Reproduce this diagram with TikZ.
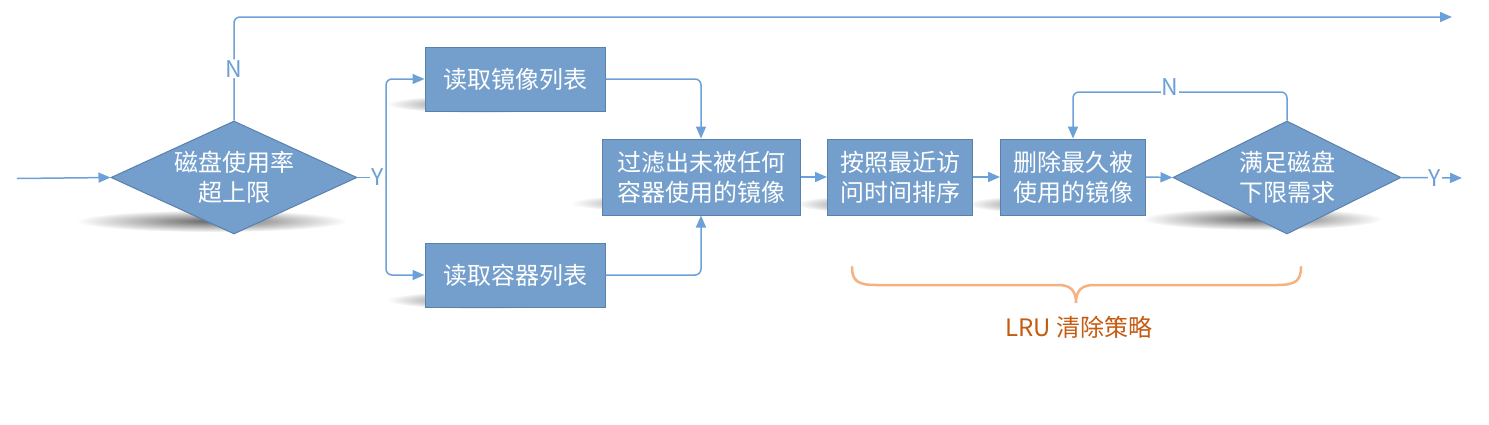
\documentclass[tikz,border=0pt]{standalone}
\usepackage{fontspec}
\setmainfont{Noto Sans CJK SC}
\usetikzlibrary{arrows.meta,shapes.geometric,fadings}
\definecolor{boxfill}{RGB}{116,159,205}
\definecolor{boxedge}{RGB}{90,128,172}
\definecolor{lnc}{RGB}{108,160,216}
\definecolor{bracec}{RGB}{245,178,128}
\definecolor{lrutxt}{RGB}{197,90,17}
\tikzfading[name=fuzzy, inner color=transparent!0, outer color=transparent!100]
\tikzset{
  stepbox/.style={rectangle, fill=boxfill, draw=boxedge, line width=1pt, text=white,
    align=center, inner sep=0pt, font=\fontsize{24}{30}\selectfont},
  decision/.style={diamond, fill=boxfill, draw=boxedge, line width=1pt, text=white,
    align=center, inner sep=0pt, aspect=2.18, font=\fontsize{24}{30}\selectfont},
  conn/.style={draw=lnc, line width=1.5pt, -{Triangle[length=12pt,width=10pt]}},
  plain/.style={draw=lnc, line width=1.5pt},
  lab/.style={text=lnc, fill=white, inner sep=1pt, font=\fontsize{23}{24}\selectfont},
  shad/.style={fill=black!60, path fading=fuzzy},
}
\begin{document}
\begin{tikzpicture}[x=1pt,y=-1pt]
\useasboundingbox (0,0) rectangle (1489,424);
\fill[white] (0,0) rectangle (1489,424);

% shadows
\fill[shad] (212,221) ellipse [x radius=135, y radius=11];
\fill[shad] (1262,219) ellipse [x radius=120, y radius=11];
\fill[shad] (482,104) ellipse [x radius=95, y radius=9];
\fill[shad] (482,300) ellipse [x radius=95, y radius=9];
\fill[shad] (676,203) ellipse [x radius=105, y radius=9];
\fill[shad] (878,204) ellipse [x radius=82, y radius=9];
\fill[shad] (1050,204) ellipse [x radius=82, y radius=9];

% nodes
\node[decision, minimum width=246pt, minimum height=113pt] (d1) at (234,177.5) {磁盘使用率\\超上限};
\node[stepbox, minimum width=180pt, minimum height=64pt] (b1) at (515,79) {读取镜像列表};
\node[stepbox, minimum width=180pt, minimum height=64pt] (b2) at (515,275) {读取容器列表};
\node[stepbox, minimum width=198pt, minimum height=76pt] (b3) at (701,177) {过滤出未被任何\\容器使用的镜像};
\node[stepbox, minimum width=145pt, minimum height=76pt] (b4) at (900,177) {按照最近访\\问时间排序};
\node[stepbox, minimum width=145pt, minimum height=76pt] (b5) at (1073,177) {删除最久被\\使用的镜像};
\node[decision, minimum width=228pt, minimum height=113pt] (d2) at (1287,177.5) {满足磁盘\\下限需求};

\coordinate (in) at (17,178.5);
\coordinate (topend) at (1452,17);
\coordinate (sp) at (386,177.5);
\coordinate (yend) at (1462,178);
\coordinate (nt) at (1180,92);

% connectors
\draw[conn] (in) -- (d1.west);
\draw[conn, rounded corners=6pt] (d1.north) -- node[lab, pos=0.5] {N} (d1.north |- topend) -- (topend);
\draw[plain] (d1.east) -- node[lab, pos=0.7] {Y} (sp);
\draw[conn, rounded corners=6pt] (sp) |- (b1.west);
\draw[conn, rounded corners=6pt] (sp) |- (b2.west);
\draw[conn, rounded corners=6pt] (b1.east) -| (b3.north);
\draw[conn, rounded corners=6pt] (b2.east) -| (b3.south);
\draw[conn] (b3.east) -- (b4.west);
\draw[conn] (b4.east) -- (b5.west);
\draw[conn] (b5.east) -- (d2.west);
\draw[conn] (d2.east) -- node[lab, pos=0.55] {Y} (yend);
\draw[conn, rounded corners=6pt] (d2.north) -- (d2.north |- nt) -| (b5.north);
\node[lab] (n2) at (1170,87) {N};

% brace
\draw[bracec, line width=2.5pt, line cap=round]
  (852,267) .. controls (852,281) and (858,285) .. (876,285) -- (1058,285)
  .. controls (1070,285) and (1076,290) .. (1076,303)
  .. controls (1076,290) and (1082,285) .. (1094,285) -- (1277,285)
  .. controls (1295,285) and (1301,281) .. (1301,267);
\node[text=lrutxt, font=\fontsize{24}{26}\selectfont] (lru) at (1079,327) {LRU 清除策略};
\end{tikzpicture}
\end{document}
